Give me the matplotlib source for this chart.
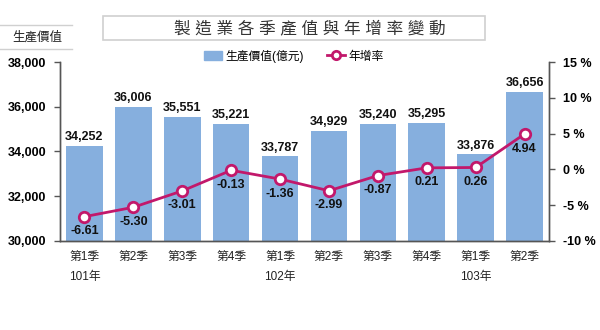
import numpy as np
import matplotlib.pyplot as plt
from matplotlib.lines import Line2D
from matplotlib.patches import Patch, Rectangle

plt.rcParams['font.family'] = ['Liberation Sans', 'Noto Sans CJK TC', 'DejaVu Sans']

# quarterly output (億元) and year-on-year growth (%)
quarters = ['第1季', '第2季', '第3季', '第4季', '第1季', '第2季', '第3季', '第4季', '第1季', '第2季']
years = ['101年', '', '', '', '102年', '', '', '', '103年', '']
output = [34252, 36006, 35551, 35221, 33787, 34929, 35240, 35295, 33876, 36656]
growth = [-6.61, -5.30, -3.01, -0.13, -1.36, -2.99, -0.87, 0.21, 0.26, 4.94]

bar_col = '#86AFDE'
line_col = '#C2186B'

fig = plt.figure(figsize=(6, 3.3), dpi=100)
ax = fig.add_axes([0.1, 0.27, 0.815, 0.542])
x = np.arange(len(output))

ax.bar(x, output, width=0.75, color=bar_col, zorder=1)
ax.set_ylim(30000, 38000)
ax.set_xlim(-0.5, len(output) - 0.5)
ax.set_yticks(np.arange(30000, 38001, 2000))
ax.set_yticklabels([f'{v:,}' for v in np.arange(30000, 38001, 2000)],
                   fontsize=9, fontweight='bold')
ax.set_xticks([])
for i, v in enumerate(output):
    ax.text(i, v + 120, f'{v:,}', ha='center', va='bottom', fontsize=9,
            fontweight='bold', color='#111111')

ax2 = ax.twinx()
ax2.plot(x, growth, color=line_col, lw=2, marker='o', ms=7.5,
         mfc='white', mec=line_col, mew=2, zorder=3)
ax2.set_ylim(-10, 15)
ax2.set_yticks(np.arange(-10, 16, 5))
ax2.set_yticklabels([f'{v} %' for v in np.arange(-10, 16, 5)],
                    fontsize=9, fontweight='bold')
for i, v in enumerate(growth):
    ax2.text(i, v - 1.2, f'{v:.2f}', ha='center', va='top', fontsize=9,
             fontweight='bold', color='#111111')

for a in (ax, ax2):
    a.spines['top'].set_visible(False)
    for s in ('left', 'right', 'bottom'):
        a.spines[s].set_color('#555555')
        a.spines[s].set_linewidth(1)
    a.tick_params(axis='y', length=4, width=1, color='#555555', pad=6)
    a.tick_params(axis='x', length=0)

# category labels under the bars
for i, (q, yr) in enumerate(zip(quarters, years)):
    ax.text(i, -0.058, q, transform=ax.get_xaxis_transform(), ha='center',
            va='top', fontsize=8.5, color='#222222')
    if yr:
        ax.text(i, -0.17, yr, transform=ax.get_xaxis_transform(), ha='center',
                va='top', fontsize=8.5, color='#222222')

# title box
fig.add_artist(Rectangle((0.172, 0.878), 0.637, 0.073, transform=fig.transFigure,
                         fc='white', ec='#D0D0D0', lw=1.2))
fig.text(0.516, 0.914, '製 造 業 各 季 產 值 與 年 增 率 變 動', ha='center',
         va='center', fontsize=12, color='#333333')

# y-axis caption between two rules
fig.text(0.063, 0.887, '生產價值', ha='center', va='center', fontsize=9, color='#222222')
fig.add_artist(Line2D([0, 0.12], [0.925, 0.925], color='#D0D0D0', lw=1))
fig.add_artist(Line2D([0, 0.12], [0.853, 0.853], color='#D0D0D0', lw=1))

handles = [Patch(color=bar_col),
           Line2D([], [], color=line_col, lw=2, marker='o', ms=6,
                  mfc='white', mec=line_col, mew=2)]
fig.legend(handles, ['生產價值(億元)', '年增率'], loc='center',
           bbox_to_anchor=(0.49, 0.83), ncol=2, frameon=False, fontsize=8.5,
           handlelength=1.5, handletextpad=0.3, columnspacing=2)

fig.savefig('out.png', dpi=100)
